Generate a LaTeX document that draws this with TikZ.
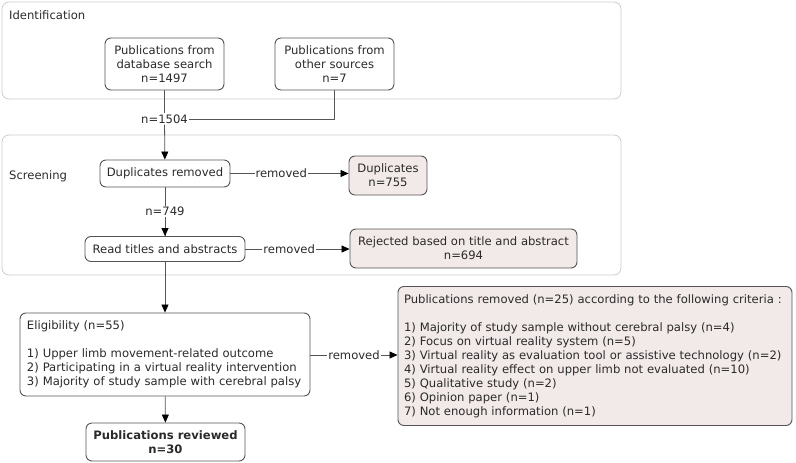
\documentclass[tikz,border=0pt]{standalone}
\usepackage{fontspec}
\setmainfont{DejaVu Sans}
\usetikzlibrary{arrows.meta,calc}
\definecolor{txt}{HTML}{2A2A2A}
\definecolor{edge}{HTML}{555555}
\definecolor{pane}{HTML}{CCCCCC}
\definecolor{pinkfill}{HTML}{F2EAE8}
\begin{document}
\begin{tikzpicture}[x=1pt,y=-1pt,
  font=\fontsize{11.6}{14}\selectfont, text=txt,
  box/.style={draw=edge, line width=0.9pt, rounded corners=6pt, fill=white, align=center, inner sep=0pt},
  rbox/.style={box, fill=pinkfill},
  pane/.style={draw=pane, line width=0.8pt, rounded corners=7pt},
  lbl/.style={fill=white, inner sep=1pt},
  conn/.style={draw=edge, line width=0.8pt},
  arr/.style={conn, -{Triangle[length=8pt,width=7pt,color=black]}, shorten >=0pt}
]
\useasboundingbox (0,0) rectangle (796,463);
% panes
\draw[pane] (2,2) rectangle (621,99);
\draw[pane] (2,135) rectangle (621,275);
\node[anchor=west, inner sep=0pt] (idt) at (9,15) {Identification};
\node[anchor=west, inner sep=0pt] (scr) at (9,176) {Screening};
% nodes
\node[box, minimum width=119pt, minimum height=52pt] (b1) at (164.5,64) {Publications from\\database search\\n=1497};
\node[box, minimum width=119pt, minimum height=52pt] (b2) at (334.5,64) {Publications from\\other sources\\n=7};
\node[lbl] (n1504) at (164.5,119) {n=1504};
\node[box, minimum width=130pt, minimum height=27pt] (dup) at (165,173.5) {Duplicates removed};
\node[rbox, minimum width=78pt, minimum height=39pt] (dups) at (388,175.5) {Duplicates\\n=755};
\node[box, minimum width=160pt, minimum height=25pt] (read) at (165,249) {Read titles and abstracts};
\node[rbox, minimum width=227pt, minimum height=39pt] (rej) at (463.5,248.5) {Rejected based on title and abstract\\n=694};
\node[box, minimum width=290pt, minimum height=83pt, align=left, text width=276pt, inner xsep=7pt] (elig) at (165,354.5)
  {Eligibility (n=55)\\[14pt]1) Upper limb movement-related outcome\\2) Participating in a virtual reality intervention\\3) Majority of study sample with cerebral palsy};
\node[rbox, minimum width=394pt, minimum height=139pt, align=left, text width=382pt, inner xsep=6pt] (rem) at (595,356)
  {Publications removed (n=25) according to the following criteria :\\[14pt]1) Majority of study sample without cerebral palsy (n=4)\\2) Focus on virtual reality system (n=5)\\3) Virtual reality as evaluation tool or assistive technology (n=2)\\4) Virtual reality effect on upper limb not evaluated (n=10)\\5) Qualitative study (n=2)\\6) Opinion paper (n=1)\\7) Not enough information (n=1)};
\node[box, minimum width=159pt, minimum height=38pt, font=\fontsize{11.6}{14}\selectfont\bfseries] (rev) at (165.5,442) {Publications reviewed\\n=30};
% connectors
\draw[conn] (b1) -- (n1504);
\draw[conn] (b2.south) |- (n1504.east);
\draw[arr] (n1504) -- (dup);
\draw[arr] (dup.east) -- node[lbl, pos=0.43] {removed} (dup.east -| dups.west);
\draw[conn] (dup) -- node[lbl] (n749) {n=749} (read);
\draw[arr] (n749) -- (read);
\draw[arr] (read.east) -- node[lbl, pos=0.42] {removed} (read.east -| rej.west);
\draw[arr] (read) -- (elig);
\draw[arr] (elig.east |- 0,355) -- node[lbl] {removed} (rem.west |- 0,355);
\draw[arr] (elig) -- (rev);
\end{tikzpicture}
\end{document}
